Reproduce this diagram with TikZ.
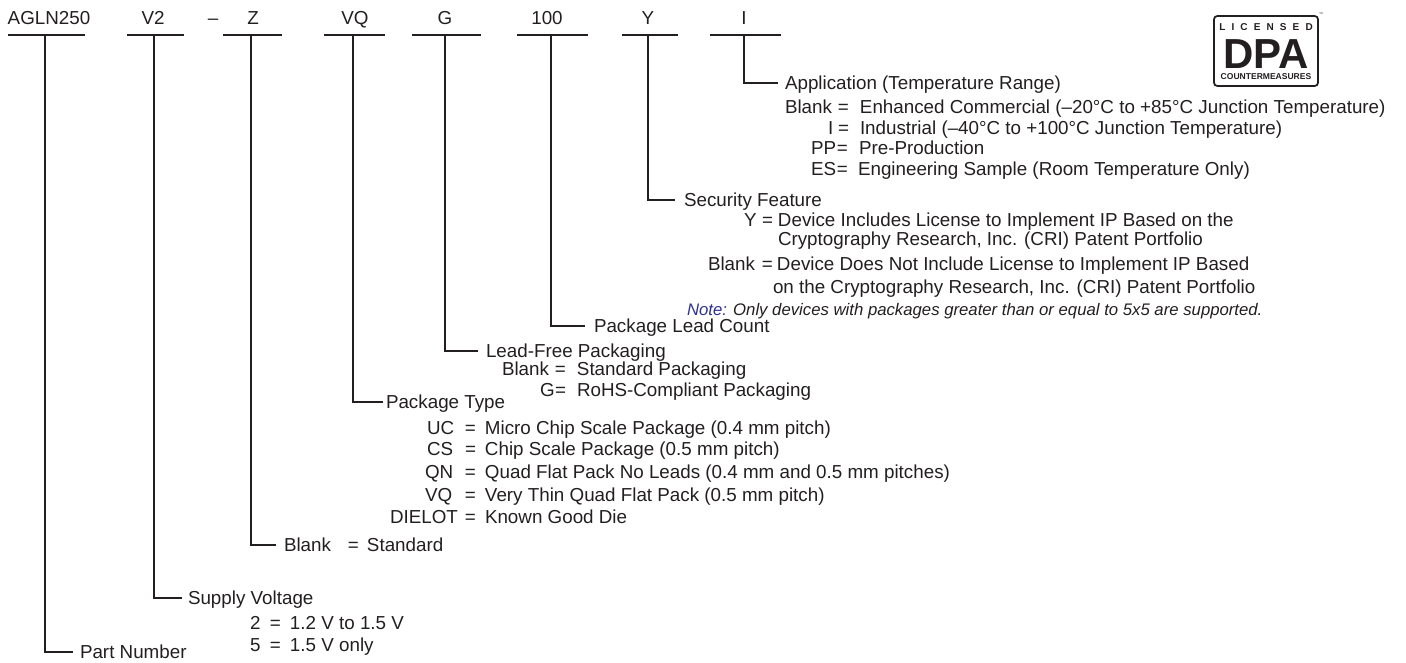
\documentclass[tikz,border=0pt]{standalone}
\usepackage{fontspec}
\setmainfont{Liberation Sans}
\definecolor{ink}{HTML}{231F20}
\definecolor{noteblue}{HTML}{2E3192}
\newcommand{\rowtxt}[5]{\makebox[\dimexpr(#2pt-#1pt)*3/4\relax][l]{#4}\makebox[\dimexpr(#3pt-#2pt)*3/4\relax][l]{=}#5}
\tikzset{
  x=0.75pt,y=-0.75pt,
  lbl/.style={anchor=west,inner sep=0pt,outer sep=0pt,text=ink,font=\fontsize{14.1pt}{15pt}\selectfont,text height=10pt,text depth=0pt},
  head/.style={lbl,anchor=center},
  note/.style={lbl,font=\fontsize{12.55pt}{14pt}\selectfont\itshape},
  bar/.style={line width=1.1pt,draw=ink},
  lead/.style={line width=1.1pt,draw=ink},
  logo/.style={inner sep=0pt,text=ink,font=\bfseries},
}
\begin{document}
\begin{tikzpicture}
\useasboundingbox (0,0) rectangle (1406,662);
% top codes
\node[head] (tA) at (49,18) {AGLN250};
\node[head] (tB) at (153,18) {V2};
\node[head] (tDash) at (213,18) {--};
\node[head] (tC) at (253,18) {Z};
\node[head] (tD) at (355,18) {VQ};
\node[head] (tE) at (445,18) {G};
\node[head] (tF) at (547,18) {100};
\node[head] (tG) at (648,18) {Y};
\node[head] (tH) at (744,18) {I};
% bars
\coordinate (aL) at (8,35); \coordinate (aR) at (85,35); \coordinate (aT) at (45,35);
\coordinate (bL) at (127,35); \coordinate (bR) at (184,35); \coordinate (bT) at (154,35);
\coordinate (cL) at (223,35); \coordinate (cR) at (282,35); \coordinate (cT) at (251,35);
\coordinate (dL) at (324,35); \coordinate (dR) at (385,35); \coordinate (dT) at (353,35);
\coordinate (eL) at (412,35); \coordinate (eR) at (481,35); \coordinate (eT) at (445,35);
\coordinate (fL) at (517,35); \coordinate (fR) at (588,35); \coordinate (fT) at (551,35);
\coordinate (gL) at (622,35); \coordinate (gR) at (678,35); \coordinate (gT) at (648,35);
\coordinate (hL) at (710,35); \coordinate (hR) at (781,35); \coordinate (hT) at (744,35);
\foreach \n in {a,b,c,d,e,f,g,h} \draw[bar] (\n L) -- (\n R);
% application
\node[lbl] (app) at (785,83) {Application (Temperature Range)};
\node[lbl] (app1) at (785,107) {\rowtxt{785}{838}{860}{Blank}{Enhanced Commercial (–20°C to +85°C Junction Temperature)}};
\node[lbl] (app2) at (828,128) {\rowtxt{828}{838}{860}{I}{Industrial (–40°C to +100°C Junction Temperature)}};
\node[lbl] (app3) at (811,148) {\rowtxt{811}{837}{859}{PP}{Pre-Production}};
\node[lbl] (app4) at (811,169) {\rowtxt{811}{837}{858}{ES}{Engineering Sample (Room Temperature Only)}};
% security
\node[lbl] (sec) at (684,200) {Security Feature};
\node[lbl] (sec1) at (744,220) {\rowtxt{744}{762}{778}{Y}{Device Includes License to Implement IP Based on the}};
\node[lbl] (sec2) at (778,239) {Cryptography Research, Inc. (CRI) Patent Portfolio};
\node[lbl] (sec3) at (708,264) {\rowtxt{708}{762}{777}{Blank}{Device Does Not Include License to Implement IP Based}};
\node[lbl] (sec4) at (773,287) {on the Cryptography Research, Inc. (CRI) Patent Portfolio};
\node[note] (sec5) at (687,309) {\textcolor{noteblue}{Note:} Only devices with packages greater than or equal to 5x5 are supported.};
% lead count
\node[lbl] (cnt) at (594,326) {Package Lead Count};
% lead free
\node[lbl] (lf) at (486,351) {Lead-Free Packaging};
\node[lbl] (lf1) at (502,369) {\rowtxt{502}{555}{577}{Blank}{Standard Packaging}};
\node[lbl] (lf2) at (540,390) {\rowtxt{540}{555}{577}{G}{RoHS-Compliant Packaging}};
% package type
\node[lbl] (pkg) at (386,402) {Package Type};
\node[lbl] (pkg1) at (427,428) {\rowtxt{427}{465}{485}{UC}{Micro Chip Scale Package (0.4 mm pitch)}};
\node[lbl] (pkg2) at (427,449) {\rowtxt{427}{465}{485}{CS}{Chip Scale Package (0.5 mm pitch)}};
\node[lbl] (pkg3) at (425,472) {\rowtxt{425}{465}{485}{QN}{Quad Flat Pack No Leads (0.4 mm and 0.5 mm pitches)}};
\node[lbl] (pkg4) at (425,495) {\rowtxt{425}{465}{485}{VQ}{Very Thin Quad Flat Pack (0.5 mm pitch)}};
\node[lbl] (pkg5) at (390,517) {\rowtxt{390}{465}{485}{DIELOT}{Known Good Die}};
% z
\node[lbl] (blk) at (284,545) {\rowtxt{284}{348}{367}{Blank}{Standard}};
% voltage
\node[lbl] (sup) at (188,598) {Supply Voltage};
\node[lbl] (sup1) at (250,623) {\rowtxt{250}{270}{290}{2}{1.2 V to 1.5 V}};
\node[lbl] (sup2) at (250,645) {\rowtxt{250}{270}{290}{5}{1.5 V only}};
% part
\node[lbl] (part) at (80,652) {Part Number};
% leaders
\draw[lead] (aT) |- ([xshift=-7*0.75pt]part.west);
\draw[lead] (bT) |- ([xshift=-6*0.75pt]sup.west);
\draw[lead] (cT) |- ([xshift=-8*0.75pt]blk.west);
\draw[lead] (dT) |- ([xshift=-3*0.75pt]pkg.west);
\draw[lead] (eT) |- ([xshift=-8*0.75pt]lf.west);
\draw[lead] (fT) |- ([xshift=-9*0.75pt]cnt.west);
\draw[lead] (gT) |- ([xshift=-9*0.75pt]sec.west);
\draw[lead] (hT) |- ([xshift=-7*0.75pt]app.west);
% DPA logo
\draw[draw=ink,line width=1.3pt,rounded corners=2.5pt,fill=white] (1214,16) rectangle (1318,86);
\node[logo,font=\fontsize{7.5pt}{8pt}\selectfont\bfseries] (l1) at (1266,27) {L\hspace{4.6pt}I\hspace{4.6pt}C\hspace{4.6pt}E\hspace{4.6pt}N\hspace{4.6pt}S\hspace{4.6pt}E\hspace{4.6pt}D};
\node[logo,font=\fontsize{31.5pt}{32pt}\selectfont\bfseries,text height=22.5pt,text depth=0pt] (l2) at (1266,53) {DPA};
\node[logo,font=\fontsize{6.4pt}{7pt}\selectfont\bfseries] (l3) at (1266,77) {COUNTERMEASURES};
\node[logo,font=\fontsize{3pt}{3pt}\selectfont] (l4) at (1321,14) {™};
\end{tikzpicture}
\end{document}
